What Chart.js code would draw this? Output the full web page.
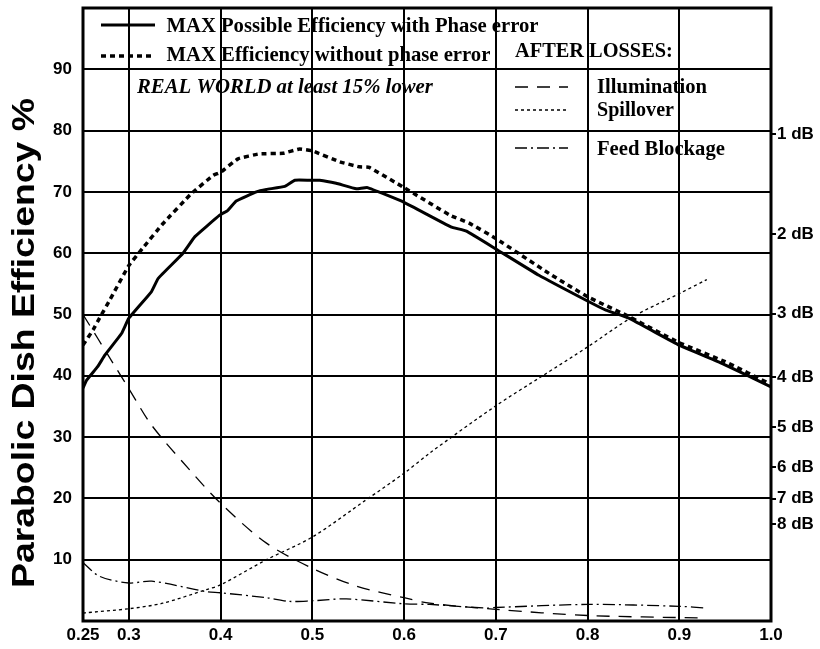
<!DOCTYPE html>
<html>
<head>
<meta charset="utf-8">
<script src="https://cdn.jsdelivr.net/npm/chart.js@4/dist/chart.umd.min.js"></script>
<style>
  html, body { margin: 0; padding: 0; background: #fff; }
  canvas { display: block; }
</style>
</head>
<body>
<canvas id="c" width="820" height="649"></canvas>
<script>
// ---- Data ----
const xTicks = [0.25, 0.3, 0.4, 0.5, 0.6, 0.7, 0.8, 0.9, 1.0];
const xTickLabels = ['0.25', '0.3', '0.4', '0.5', '0.6', '0.7', '0.8', '0.9', '1.0'];
const yTicks = [0, 10, 20, 30, 40, 50, 60, 70, 80, 90, 100];
const yTickLabels = ['', '10', '20', '30', '40', '50', '60', '70', '80', '90', ''];
const dbTicks = [1, 2, 3, 4, 5, 6, 7, 8];
const dbTickLabels = ['1 dB', '2 dB', '3 dB', '4 dB', '5 dB', '6 dB', '7 dB', '8 dB'];

const phaseX = [0.25, 0.254, 0.266, 0.274, 0.292, 0.30, 0.3245, 0.332, 0.359, 0.372, 0.399, 0.408, 0.417, 0.439, 0.45, 0.47, 0.481, 0.497, 0.508, 0.526, 0.548, 0.560, 0.60, 0.651, 0.668, 0.70, 0.747, 0.80, 0.82, 0.845, 0.90, 0.947, 1.0];
const phaseY = [38.0, 39.3, 41.5, 43.4, 46.9, 49.4, 53.7, 55.9, 60.0, 62.7, 66.2, 67.0, 68.5, 70.0, 70.4, 70.9, 71.9, 71.9, 71.9, 71.4, 70.5, 70.7, 68.3, 64.3, 63.6, 60.7, 56.4, 52.2, 50.7, 49.4, 45.0, 42.0, 38.2];

const noPhaseX = [0.25, 0.261, 0.268, 0.279, 0.30, 0.315, 0.337, 0.368, 0.392, 0.40, 0.419, 0.442, 0.468, 0.486, 0.50, 0.53, 0.551, 0.562, 0.60, 0.65, 0.671, 0.70, 0.758, 0.80, 0.842, 0.90, 0.95, 1.0];
const noPhaseY = [45.0, 47.5, 49.4, 52.3, 58.0, 60.8, 64.8, 69.7, 72.7, 73.2, 75.4, 76.2, 76.3, 77.0, 76.7, 74.9, 74.1, 74.0, 70.7, 66.2, 64.9, 62.4, 56.7, 52.9, 49.9, 45.4, 42.3, 38.6];

const illumX = [0.25, 0.283, 0.30, 0.3245, 0.366, 0.40, 0.45, 0.50, 0.548, 0.60, 0.628, 0.70, 0.80, 0.92];
const illumY = [50.0, 42.0, 37.9, 32.0, 24.7, 19.2, 12.7, 8.6, 5.7, 3.8, 2.9, 1.9, 0.9, 0.5];

const spillX = [0.25, 0.30, 0.337, 0.384, 0.40, 0.45, 0.50, 0.559, 0.60, 0.628, 0.70, 0.751, 0.80, 0.849, 0.90, 0.93];
const spillY = [1.3, 2.0, 2.9, 5.1, 5.9, 10.0, 13.7, 19.8, 24.1, 27.4, 35.1, 40.0, 44.7, 49.6, 53.4, 55.7];

const feedX = [0.25, 0.268, 0.30, 0.325, 0.384, 0.40, 0.45, 0.475, 0.50, 0.537, 0.60, 0.628, 0.69, 0.70, 0.80, 0.90, 0.93];
const feedY = [9.5, 7.3, 6.2, 6.5, 4.8, 4.6, 3.8, 3.2, 3.3, 3.6, 2.8, 2.7, 2.1, 2.2, 2.7, 2.4, 2.1];

const seriesNames = [
  'MAX Possible Efficiency with Phase error',
  'MAX Efficiency without phase error',
  'Illumination',
  'Spillover',
  'Feed Blockage'
];
const noteText = 'REAL WORLD at least 15% lower';
const lossesTitle = 'AFTER LOSSES:';
const yTitle = 'Parabolic Dish Efficiency %';

const pts = (xs, ys) => xs.map((x, i) => ({ x: x, y: ys[i] }));

const SANS = '"Liberation Sans", Arial, sans-serif';
const SERIF = '"Liberation Serif", "Times New Roman", serif';

const styles = [
  { width: 3, dash: [], tension: 0.1 },
  { width: 3.5, dash: [5, 4], tension: 0.1 },
  { width: 1.3, dash: [13, 9], tension: 0.3 },
  { width: 1.3, dash: [3, 3], tension: 0.3 },
  { width: 1.3, dash: [12, 4, 2, 4], tension: 0.3 }
];
const seriesData = [pts(phaseX, phaseY), pts(noPhaseX, noPhaseY), pts(illumX, illumY), pts(spillX, spillY), pts(feedX, feedY)];

function fitSize(ctx, text, style, family, target) {
  ctx.font = style + ' 20px ' + family;
  const w = ctx.measureText(text).width;
  return 20 * target / w;
}

const overlay = {
  id: 'overlay',
  afterDraw(chart) {
    const ctx = chart.ctx;
    const a = chart.chartArea;
    ctx.save();
    // frame
    ctx.strokeStyle = '#000';
    ctx.lineWidth = 3;
    ctx.setLineDash([]);
    ctx.strokeRect(a.left, a.top, a.right - a.left, a.bottom - a.top);

    // legend samples
    const sample = (x1, x2, y, st) => {
      ctx.beginPath();
      ctx.lineWidth = st.width;
      ctx.setLineDash(st.dash);
      ctx.moveTo(x1, y); ctx.lineTo(x2, y);
      ctx.stroke();
    };
    sample(101, 155, 25, styles[0]);
    sample(101, 155, 56, styles[1]);
    sample(515, 568, 87, styles[2]);
    sample(515, 568, 110, styles[3]);
    sample(515, 568, 148, styles[4]);
    ctx.setLineDash([]);

    ctx.fillStyle = '#000';
    ctx.textBaseline = 'alphabetic';
    ctx.textAlign = 'left';
    const txt = (text, style, x, midY, width) => {
      const s = fitSize(ctx, text, style, SERIF, width);
      ctx.font = style + ' ' + s.toFixed(2) + 'px ' + SERIF;
      ctx.fillText(text, x, midY + 0.33 * s);
    };
    txt(seriesNames[0], 'bold', 166.5, 25.5, 372);
    txt(seriesNames[1], 'bold', 166.5, 54.5, 324);
    txt(noteText, 'italic bold', 137, 86.5, 296);
    txt(lossesTitle, 'bold', 515, 50, 158);
    txt(seriesNames[2], 'bold', 597, 86.5, 110);
    txt(seriesNames[3], 'bold', 597, 109, 77);
    txt(seriesNames[4], 'bold', 597, 148.5, 128);

    // y axis title
    ctx.save();
    ctx.translate(25, 343);
    ctx.rotate(-Math.PI / 2);
    ctx.font = 'bold 31px ' + SANS;
    const tw = ctx.measureText(yTitle).width;
    ctx.scale(490 / tw, 1);
    ctx.textAlign = 'center';
    ctx.textBaseline = 'middle';
    ctx.fillText(yTitle, 0, 0);
    ctx.restore();

    ctx.restore();
  }
};

const tickFont = { family: SANS, size: 17, weight: 'bold' };

new Chart(document.getElementById('c'), {
  type: 'line',
  data: {
    datasets: seriesData.map((d, i) => ({
      label: seriesNames[i],
      data: d,
      borderColor: '#000',
      borderWidth: styles[i].width,
      borderDash: styles[i].dash,
      tension: styles[i].tension,
      pointRadius: 0,
      fill: false
    }))
  },
  options: {
    responsive: false,
    animation: false,
    layout: { padding: { top: 8, left: 0, right: 0, bottom: 0 } },
    plugins: { legend: { display: false }, tooltip: { enabled: false } },
    scales: {
      x: {
        type: 'linear', min: 0.25, max: 1.0,
        afterBuildTicks: s => { s.ticks = xTicks.map(v => ({ value: v })); },
        afterFit: s => { s.height = 28; s.paddingLeft = 0; s.paddingRight = 0; },
        ticks: {
          autoSkip: false, maxRotation: 0, minRotation: 0, padding: 4,
          color: '#000', font: tickFont,
          callback: (v, i) => xTickLabels[i]
        },
        grid: { color: '#000', lineWidth: 2, drawTicks: false },
        border: { display: false }
      },
      y: {
        type: 'linear', min: 0, max: 100, position: 'left',
        afterBuildTicks: s => { s.ticks = yTicks.map(v => ({ value: v })); },
        afterFit: s => { s.width = 83; s.paddingTop = 0; s.paddingBottom = 0; },
        ticks: {
          autoSkip: false, padding: 11, color: '#000', font: tickFont,
          callback: (v, i) => yTickLabels[i]
        },
        grid: { color: '#000', lineWidth: 2, drawTicks: false },
        border: { display: false }
      },
      y2: {
        type: 'linear', min: 0, max: 100, position: 'right',
        afterBuildTicks: s => { s.ticks = dbTicks.map(d => ({ value: 100 * Math.pow(10, -d / 10) })); },
        afterFit: s => { s.width = 49; s.paddingTop = 0; s.paddingBottom = 0; },
        ticks: {
          autoSkip: false, padding: 1, color: '#000', font: tickFont,
          callback: (v, i) => dbTickLabels[i]
        },
        grid: { drawOnChartArea: false, color: '#000', lineWidth: 2, tickLength: 5 },
        border: { display: false }
      }
    }
  },
  plugins: [overlay]
});
</script>
</body>
</html>
